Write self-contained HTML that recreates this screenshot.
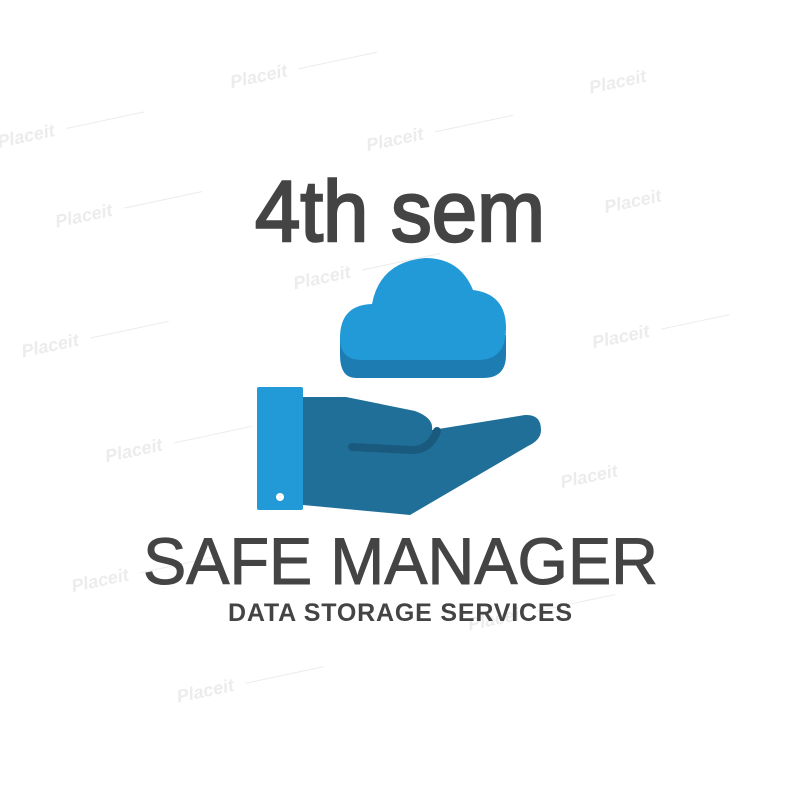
<!DOCTYPE html>
<html><head><meta charset="utf-8"><style>
html,body{margin:0;padding:0;background:#fff;width:800px;height:800px;overflow:hidden;}
svg{display:block;}
</style></head><body>
<svg width="800" height="800" viewBox="0 0 800 800" xmlns="http://www.w3.org/2000/svg">
<rect width="800" height="800" fill="#fff"/>
<g font-family="Liberation Sans, sans-serif" font-weight="bold" font-style="italic" font-size="18" fill="#ececec" stroke="#ececec">
  <g transform="rotate(-12 400 400)">
    <text x="60" y="70" stroke="none">Placeit</text><line x1="130" y1="65" x2="210" y2="65"/>
    <text x="300" y="60" stroke="none">Placeit</text><line x1="370" y1="55" x2="450" y2="55"/>
    <text x="100" y="160" stroke="none">Placeit</text><line x1="170" y1="155" x2="250" y2="155"/>
    <text x="420" y="150" stroke="none">Placeit</text><line x1="490" y1="145" x2="570" y2="145"/>
    <text x="650" y="140" stroke="none">Placeit</text>
    <text x="40" y="280" stroke="none">Placeit</text><line x1="110" y1="275" x2="190" y2="275"/>
    <text x="320" y="270" stroke="none">Placeit</text><line x1="390" y1="265" x2="470" y2="265"/>
    <text x="640" y="260" stroke="none">Placeit</text>
    <text x="100" y="400" stroke="none">Placeit</text><line x1="170" y1="395" x2="250" y2="395"/>
    <text x="600" y="390" stroke="none">Placeit</text><line x1="670" y1="385" x2="740" y2="385"/>
    <text x="40" y="520" stroke="none">Placeit</text><line x1="110" y1="515" x2="190" y2="515"/>
    <text x="540" y="520" stroke="none">Placeit</text>
    <text x="120" y="650" stroke="none">Placeit</text><line x1="190" y1="645" x2="270" y2="645"/>
    <text x="420" y="640" stroke="none">Placeit</text><line x1="490" y1="635" x2="570" y2="635"/>
  </g>
</g>
<text x="255" y="241" font-family="Liberation Sans, sans-serif" font-size="86" fill="#444" textLength="290" lengthAdjust="spacingAndGlyphs" stroke="#444" stroke-width="2.5">4th sem</text>
<path d="M356 378 Q340 378 340 355 L340 335 L506 335 L506 355 Q506 378 483 378 Z" fill="#1d7db3"/>
<path d="M362 360 Q340 360 340 338 Q340 305 372 304 Q380 262 425 258 Q460 258 473 290 Q506 294 506 328 Q506 360 478 360 Z" fill="#229ad8"/>
<path d="M303 397 L346 397 L415 411 Q434 418 432 430 L525 415 Q541 414 541 430 Q541 440 528 446 L410 515 L303 505 Z" fill="#1f6f99"/>
<path d="M352 447 L412 450 Q430 450 437 431" fill="none" stroke="#1a5a7e" stroke-width="8" stroke-linecap="round"/>
<rect x="257" y="387" width="46" height="123" rx="2" fill="#229ad8"/>
<circle cx="280" cy="497" r="4" fill="#fff"/>
<text x="143" y="584" font-family="Liberation Sans, sans-serif" font-size="66" fill="#444" stroke="#444" stroke-width="1" textLength="515" lengthAdjust="spacingAndGlyphs">SAFE MANAGER</text>
<text x="228" y="621" font-family="Liberation Sans, sans-serif" font-weight="bold" font-size="25" fill="#444" textLength="344" lengthAdjust="spacing">DATA STORAGE SERVICES</text>
</svg>
</body></html>
